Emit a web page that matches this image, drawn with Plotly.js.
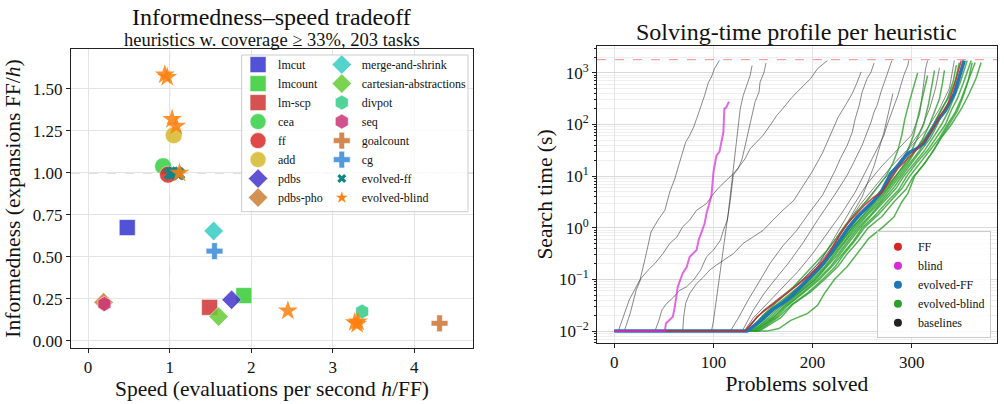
<!DOCTYPE html>
<html><head><meta charset="utf-8">
<script src="https://cdn.plot.ly/plotly-3.0.1.min.js"></script>
<style>html,body{margin:0;padding:0;background:#fff}#chart{width:1004px;height:404px}</style>
</head><body><div id="chart"></div>
<script>
// ---------------- Left panel data ----------------
const heuristics = ['lmcut','lmcount','lm-scp','cea','ff','add','pdbs','pdbs-pho',
  'merge-and-shrink','cartesian-abstractions','divpot','seq','goalcount','cg'];
const speed =        [0.48, 1.91, 1.49, 0.92, 0.98, 1.05, 1.76, 0.19, 1.54, 1.60, 3.36, 0.20, 4.31, 1.55];
const informedness = [0.675,0.27, 0.20, 1.04, 0.99, 1.225,0.245,0.23, 0.655,0.145,0.175,0.22, 0.105,0.535];
const evolvedFF_speed = [1.01, 1.04, 1.09, 1.11];
const evolvedFF_inf   = [0.995, 1.0, 1.0, 0.995];
const evolvedBlind_speed = [0.94, 0.97, 1.03, 1.08, 1.12, 2.45, 3.27, 3.30, 3.31];
const evolvedBlind_inf   = [1.585, 1.57, 1.32, 1.28, 1.0, 0.18, 0.11, 0.10, 0.115];
const leftXTicks = [0, 1, 2, 3, 4];
const leftYTicks = [0, 0.25, 0.5, 0.75, 1.0, 1.25, 1.5];

// ---------------- Right panel data (problems solved n, search time t in s) ----------------
const TIMEOUT = 1800;
const ff_n = [0,132,144,152,161,170,178,186,195,203,211,220,228,236,245,253,262,270,279,286,296,306,312,318,323,329,336,343,350];
const ff_t = [0.01,0.01,0.019,0.025,0.0347,0.0468,0.0617,0.083,0.112,0.158,0.234,0.417,0.776,1.26,1.9,2.82,3.98,4.9,8.9,14.1,21.9,33.9,45.7,63.1,95.5,151,234,575,1738];
const blind_n = [0,51,52,59,61,64,69,73,76,83,85,91,93,96,98,100,103,106,110,111,113,115,116];
const blind_t = [0.01,0.01,0.0141,0.019,0.0295,0.0724,0.132,0.174,0.275,0.372,0.575,1.2,1.9,2.95,4.27,12,25.1,29.5,70.8,204,214,263,275];
const evoFF_n = [0,134,148,161,170,178,186,195,203,211,220,228,236,245,254,262,270,279,287,296,304,312,318,326,334,343,348,353];
const evoFF_t = [0.01,0.01,0.0162,0.0275,0.0355,0.0457,0.066,0.098,0.141,0.204,0.355,0.617,1,1.62,2.4,3.39,5.25,11.2,16.6,27.5,33.1,42.7,66.1,120,186,398,832,1738];

const base01_n = [0,4,15,26,31,37,44,51,56,61,64,69,72,76,80,83,88,91,95,98,101,106];
const base01_t = [0.01,0.01,0.04,0.1,0.25,0.83,1.41,2.19,5.0,8.9,14.1,29.5,45.7,61.7,89,129,234,363,661,832,1202,1738];
const base02_n = [0,10,16,22,27,34,41,49,56,63,69,76,83,93,100,106,113,120,127,132,137,143,150,157,164,170,178,188,198,205,215];
const base02_t = [0.01,0.01,0.022,0.062,0.105,0.151,0.204,0.316,0.5,0.66,1.05,1.41,2.19,2.95,4.57,6.17,8.3,11.2,16.2,21.9,33.9,45.7,61.7,95.5,151,204,316,501,776,1202,1738];
const base03_n = [0,41,45,48,53,60,66,73,80,87,93,100,107,110,114,117,120,125,129,132,137,142,146,147,151,153];
const base03_t = [0.01,0.01,0.0162,0.0257,0.0347,0.0457,0.0617,0.0724,0.098,0.151,0.275,0.372,0.575,0.89,1.41,3.39,10.5,14.1,21.9,39.8,112,275,427,661,1023,1549];
const base04_n = [0,69,70,72,76,83,90,96,103,110,120,130,140,150,160,170,181,190,200,210,218,226,234,240,245,249];
const base04_t = [0.01,0.01,0.019,0.0347,0.0537,0.083,0.112,0.151,0.19,0.234,0.316,0.5,0.66,0.89,1.41,2.19,3.39,6.31,12.6,28.2,63.1,141,251,398,661,1047];
const base05_n = [0,117,125,135,145,157,170,184,197,210,215,222,228,235,240,243,247,250,255,259,262];
const base05_t = [0.01,0.01,0.0178,0.04,0.083,0.204,0.447,0.89,2.0,4.27,6.6,12,21.9,39.8,70.8,129,234,427,776,1047,1549];
const base06_n = [0,98,100,103,106,109,112,115,118,121,124,127,130,135,137,139];
const base06_t = [0.01,0.01,0.0158,0.04,0.1,0.251,0.631,2.0,6.31,20,63.1,200,363,661,891,1380];
const base07_n = [0,129,140,150,160,175,190,205,222,228,235,240,245,250,255,259,262,265,269,274,277,280];
const base07_t = [0.01,0.01,0.025,0.05,0.089,0.2,0.5,1.41,4.27,6.6,10.5,16.2,25.1,39.8,70.8,112,174,234,427,776,1202,1738];
const base08_n = [0,131,140,155,170,185,200,215,230,243,250,257,262,267,272,275,279,282,286,289,292,296,297];
const base08_t = [0.01,0.01,0.0178,0.0355,0.0708,0.141,0.316,0.794,2.0,4.9,8.9,16.2,25.1,39.8,61.7,95.5,151,234,363,575,891,1380,1738];
const base09_n = [0,133,150,170,190,205,220,235,250,262,272,275,279,281];
const base09_t = [0.01,0.01,0.025,0.05,0.1,0.2,0.5,1.26,3.98,15.8,70.8,129,275,398];
const base10_n = [0,132,148,168,188,208,225,240,255,270,285,300,308,312,314,316];
const base10_t = [0.01,0.01,0.0224,0.0447,0.089,0.224,0.794,2.51,7.08,15.8,31.6,63.1,158,661,1202,1738];
const base11_n = [0,134,150,172,195,215,232,248,265,280,295,308,318,324,328];
const base11_t = [0.01,0.01,0.02,0.04,0.1,0.282,1,2.82,7.08,15.8,31.6,70.8,200,501,1259];
const base12_n = [0,131,145,165,185,205,222,238,255,270,284,298,315,328,338,343];
const base12_t = [0.01,0.01,0.02,0.04,0.079,0.178,0.5,1.41,3.55,7.94,15.8,35.5,79.4,200,501,1738];

const evb01_n = [0,136,150,163,178,190,203,214,224,233,244,256,266,274,281,286,290,293,297,300,303,306];
const evb01_t = [0.01,0.01,0.02,0.0355,0.063,0.112,0.2,0.355,0.631,1.12,2.0,3.55,6.31,10,17.8,31.6,63.1,126,251,398,708,1000];
const evb02_n = [0,137,152,166,180,196,208,218,229,238,250,262,272,280,289,296,302,306,310,313,316];
const evb02_t = [0.01,0.01,0.0209,0.0316,0.0562,0.1,0.166,0.316,0.562,1,1.9,3.16,5.25,10,17.8,31.6,63.1,126,282,501,891];
const evb03_n = [0,138,154,166,182,198,210,220,231,240,252,264,276,284,292,300,306,312,317,321,323];
const evb03_t = [0.01,0.01,0.019,0.0316,0.0525,0.1,0.178,0.316,0.603,1,1.78,3.16,6.03,10,16.6,31.6,56.2,100,251,631,1122];
const evb04_n = [0,140,155,168,185,200,212,222,233,242,254,266,276,286,296,304,311,318,324,328,331,333];
const evb04_t = [0.01,0.01,0.0178,0.0316,0.0562,0.1,0.174,0.316,0.575,1,1.78,3.16,5.62,10,17.8,31.6,52.5,100,200,316,631,1122];
const evb05_n = [0,139,158,170,186,202,214,224,235,244,256,268,280,288,298,308,316,322,330,336,342,345];
const evb05_t = [0.01,0.01,0.0182,0.0316,0.055,0.1,0.182,0.316,0.603,1,1.82,3.16,6.31,10,17.4,31.6,57.5,100,191,316,708,1413];
const evb06_n = [0,141,160,172,188,203,216,226,236,246,258,270,282,290,300,310,319,326,333,340,347,352];
const evb06_t = [0.01,0.01,0.0174,0.0316,0.0575,0.1,0.19,0.316,0.562,1,1.74,3.16,6.03,10,18.2,31.6,55,100,200,316,708,1738];
const evb07_n = [0,142,161,174,190,205,218,228,238,248,260,272,284,292,302,313,322,330,337,342,349,356];
const evb07_t = [0.01,0.01,0.019,0.0316,0.0562,0.1,0.178,0.316,0.575,1,1.82,3.16,5.75,10,17.4,31.6,57.5,100,182,316,661,1738];
const evb08_n = [0,143,163,175,192,207,220,230,241,250,263,275,287,295,305,316,325,334,340,346,352,360];
const evb08_t = [0.01,0.01,0.0182,0.0316,0.0575,0.1,0.182,0.316,0.55,1,1.74,3.16,5.5,10,18.2,31.6,56.2,100,191,316,631,1738];
const evb09_n = [0,145,166,178,195,210,223,232,243,252,266,278,290,298,308,318,328,336,344,350,356,364];
const evb09_t = [0.01,0.01,0.019,0.0316,0.055,0.1,0.178,0.316,0.575,1,1.78,3.16,5.75,10,17.4,31.6,55,100,174,316,631,1585];
const evb10_n = [0,146,168,180,198,212,226,235,246,256,270,282,294,302,312,322,330,338,346,352,357,361];
const evb10_t = [0.01,0.01,0.0182,0.0331,0.0575,0.1,0.182,0.316,0.55,1,1.66,3.16,5.5,10,16.6,31.6,57.5,100,182,355,708,1585];
const evb11_n = [0,154,166,178,195,205,212,222,235,245,257,270,282,290,296,303,313,322,330,340,350,358,365,370];
const evb11_t = [0.01,0.01,0.0112,0.0162,0.022,0.0316,0.0537,0.1,0.178,0.316,0.631,1,1.62,3.16,4.57,10,17.8,31.6,56.2,100,200,398,794,1585];
const evb12_n = [0,137,150,164,180,195,208,220,230,240,250,262,274,284,294,304,314,322,330,338,344,348];
const evb12_t = [0.01,0.01,0.02,0.0331,0.0603,0.1,0.182,0.316,0.55,1,1.66,3.16,5.75,10,17.4,31.6,57.5,100,200,355,708,1585];

const rightXTicks = [0, 100, 200, 300];
const rightYTicks = [0.01, 0.1, 1, 10, 100, 1000];
const rightYTickText = ['10<sup>−2</sup>','10<sup>−1</sup>','10<sup>0</sup>','10<sup>1</sup>','10<sup>2</sup>','10<sup>3</sup>'];
const profileLegend = ['FF', 'blind', 'evolved-FF', 'evolved-blind', 'baselines'];

// ---------------- Styles ----------------
const FONT = 'Liberation Serif, Times New Roman, serif';
const hColors = ['#3434cf','#34cc34','#cf3434','#34cf44','#d92a2a','#d4b82c','#4434cc','#cc8034',
  '#34ccc4','#66cc34','#34cc88','#cc3477','#cc7434','#3488d8'];
const hSymbols = ['square','square','square','circle','circle','circle','diamond','diamond',
  'diamond','diamond','hexagon','hexagon','cross','cross'];
const hSizes = [16,16,16,17,17,17,15,15,15,15,15,15,14,14];

const traces = [];
heuristics.forEach((h, i) => {
  traces.push({
    type:'scatter', mode:'markers', name:h, x:[speed[i]], y:[informedness[i]],
    xaxis:'x', yaxis:'y', legend: i < 8 ? 'legend' : 'legend2',
    marker:{symbol:hSymbols[i], size:hSizes[i], color:hColors[i], opacity:0.85,
            line:{color:'white', width:0.6}},
    hoverinfo:'name'
  });
});
traces.push({type:'scatter', mode:'markers', name:'evolved-ff', x:evolvedFF_speed, y:evolvedFF_inf,
  xaxis:'x', yaxis:'y', showlegend:false,
  marker:{symbol:'x', size:12, color:'#128585', opacity:0.9, line:{width:0}}});
traces.push({type:'scatter', mode:'markers', name:'evolved-blind', x:evolvedBlind_speed, y:evolvedBlind_inf,
  xaxis:'x', yaxis:'y', showlegend:false,
  marker:{symbol:'star', size:15, color:'#ff800e', opacity:0.85, line:{width:0}}});
// legend-only entries with small markers (as in the reference legend)
traces.push({type:'scatter', mode:'markers', name:'evolved-ff', x:[null], y:[null], xaxis:'x', yaxis:'y',
  legend:'legend2', marker:{symbol:'x', size:8, color:'#128585'}});
traces.push({type:'scatter', mode:'markers', name:'evolved-blind', x:[null], y:[null], xaxis:'x', yaxis:'y',
  legend:'legend2', marker:{symbol:'star', size:9, color:'#ff800e'}});

// Right panel lines
const baselineRuns = [[base01_n,base01_t],[base02_n,base02_t],[base03_n,base03_t],[base04_n,base04_t],
  [base05_n,base05_t],[base06_n,base06_t],[base07_n,base07_t],[base08_n,base08_t],[base09_n,base09_t],
  [base10_n,base10_t],[base11_n,base11_t],[base12_n,base12_t]];
const evolvedBlindRuns = [[evb01_n,evb01_t],[evb02_n,evb02_t],[evb03_n,evb03_t],[evb04_n,evb04_t],
  [evb05_n,evb05_t],[evb06_n,evb06_t],[evb07_n,evb07_t],[evb08_n,evb08_t],[evb09_n,evb09_t],
  [evb10_n,evb10_t],[evb11_n,evb11_t],[evb12_n,evb12_t]];
baselineRuns.forEach(r => traces.push({type:'scatter', mode:'lines', x:r[0], y:r[1], xaxis:'x2', yaxis:'y2',
  showlegend:false, hoverinfo:'skip', line:{color:'rgba(40,40,40,0.55)', width:1}}));
evolvedBlindRuns.forEach(r => traces.push({type:'scatter', mode:'lines', x:r[0], y:r[1], xaxis:'x2', yaxis:'y2',
  showlegend:false, hoverinfo:'skip', line:{color:'rgba(44,160,44,0.8)', width:1.5}}));
traces.push({type:'scatter', mode:'lines', x:evoFF_n, y:evoFF_t, xaxis:'x2', yaxis:'y2', showlegend:false,
  hoverinfo:'skip', line:{color:'#1f77b4', width:3.5}});
traces.push({type:'scatter', mode:'lines', x:ff_n, y:ff_t, xaxis:'x2', yaxis:'y2', showlegend:false,
  hoverinfo:'skip', line:{color:'rgba(214,39,40,0.85)', width:1.5}});
traces.push({type:'scatter', mode:'lines', x:blind_n, y:blind_t, xaxis:'x2', yaxis:'y2', showlegend:false,
  hoverinfo:'skip', line:{color:'rgba(215,40,215,0.7)', width:2}});
const profileColors = ['#d62728','#d62bd6','#1f77b4','#2ca02c','#222222'];
profileLegend.forEach((nm, i) => traces.push({type:'scatter', mode:'markers', name:nm, x:[null], y:[null],
  xaxis:'x2', yaxis:'y2', legend:'legend3', marker:{symbol:'circle', size:8, color:profileColors[i]}}));

const axCommon = {showline:true, mirror:true, linecolor:'#222', linewidth:1, ticks:'outside', ticklen:4,
  tickcolor:'#222', zeroline:false, gridcolor:'#e4e4e4', tickfont:{size:17, family:FONT, color:'#111'}};
const titleFont = {size:21.5, family:FONT, color:'#111'};

const layout = {
  width:1004, height:404, margin:{l:0, r:0, t:0, b:0},
  paper_bgcolor:'white', plot_bgcolor:'white',
  font:{family:FONT, size:17, color:'#111'},
  showlegend:true,
  xaxis:Object.assign({}, axCommon, {domain:[0.0707,0.4711], range:[-0.21,4.72], anchor:'y',
    tickvals:leftXTicks, title:{text:'Speed (evaluations per second <i>h</i>/FF)', font:titleFont, standoff:2}}),
  yaxis:Object.assign({}, axCommon, {domain:[0.1386,0.8787], range:[-0.042,1.738], anchor:'x',
    tickvals:leftYTicks, tickformat:'.2f', title:{text:'Informedness (expansions FF/<i>h</i>)', font:titleFont, standoff:6}}),
  xaxis2:Object.assign({}, axCommon, {domain:[0.5946,0.9930], range:[-17.5,386], anchor:'y2',
    tickvals:rightXTicks, title:{text:'Problems solved', font:titleFont, standoff:2}}),
  yaxis2:Object.assign({}, axCommon, {domain:[0.151,0.8861], type:'log', range:[-2.23,3.52], anchor:'x2',
    tickvals:rightYTicks, ticktext:rightYTickText, gridcolor:'#dadada',
    minor:{dtick:'D1', showgrid:true, gridcolor:'#efefef', ticks:'outside', ticklen:2, tickcolor:'#222'},
    title:{text:'Search time (s)', font:titleFont, standoff:0}}),
  legend:{x:0.2371, y:0.876, xanchor:'left', yanchor:'top', bgcolor:'rgba(0,0,0,0)', borderwidth:0,
    font:{size:12, family:FONT}, itemsizing:'trace', tracegroupgap:0},
  legend2:{x:0.3205, y:0.876, xanchor:'left', yanchor:'top', bgcolor:'rgba(0,0,0,0)', borderwidth:0,
    font:{size:12, family:FONT}, itemsizing:'trace', tracegroupgap:0},
  legend3:{x:0.987, y:0.163, xanchor:'right', yanchor:'bottom', bgcolor:'rgba(255,255,255,0.85)',
    bordercolor:'#cccccc', borderwidth:1, font:{size:12, family:FONT}, itemsizing:'trace'},
  shapes:[
    {type:'line', xref:'x', yref:'y domain', x0:1, x1:1, y0:0, y1:1, layer:'below',
     line:{color:'#bdbdbd', width:1, dash:'dash'}},
    {type:'line', xref:'x domain', yref:'y', x0:0, x1:1, y0:1, y1:1, layer:'below',
     line:{color:'#bdbdbd', width:1, dash:'dash'}},
    {type:'rect', xref:'paper', yref:'paper', x0:0.2407, x1:0.4661, y0:0.476, y1:0.8639, layer:'above',
     fillcolor:'rgba(255,255,255,0.8)', line:{color:'#cccccc', width:1}},
    {type:'line', xref:'x2 domain', yref:'y2', x0:0, x1:1, y0:TIMEOUT, y1:TIMEOUT, layer:'above',
     line:{color:'#f28b8b', width:1, dash:'dash'}}
  ],
  annotations:[
    {text:'Informedness–speed tradeoff', xref:'paper', yref:'paper', x:0.2709, y:1-17/404,
     xanchor:'center', yanchor:'middle', showarrow:false, font:{size:24, family:FONT, color:'#111'}},
    {text:'heuristics w. coverage ≥ 33%, 203 tasks', xref:'paper', yref:'paper', x:0.2709, y:1-40/404,
     xanchor:'center', yanchor:'middle', showarrow:false, font:{size:18.5, family:FONT, color:'#111'}},
    {text:'Solving-time profile per heuristic', xref:'paper', yref:'paper', x:0.7938, y:1-32/404,
     xanchor:'center', yanchor:'middle', showarrow:false, font:{size:24, family:FONT, color:'#111'}}
  ]
};

Plotly.newPlot('chart', traces, layout, {displayModeBar:false, staticPlot:true});
</script></body></html>
